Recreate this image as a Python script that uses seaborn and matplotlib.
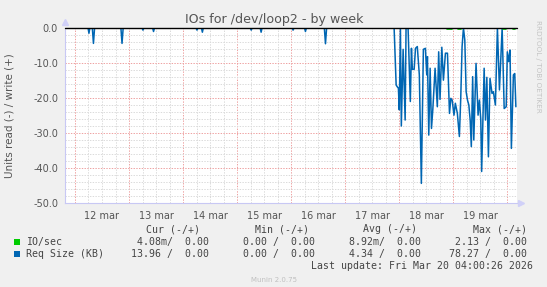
import numpy as np
import pandas as pd
import matplotlib
matplotlib.use("Agg")
import matplotlib.pyplot as plt
from matplotlib.patches import Rectangle
import seaborn as sns

# ---------------- data ----------------
# time in hours since 12 Mar 00:00
req_hours = [-4.4, 5.8, 6.2, 6.6, 7.7, 8.2, 8.7, 20.4, 20.9, 21.4,
             29.8, 30.2, 30.6, 34.5, 34.9, 35.3, 53.8, 54.2, 54.6,
             56.2, 56.6, 57.0, 77.9, 78.3, 78.7, 82.3, 82.7, 83.1,
             96.5, 96.9, 97.3, 102.0, 102.4, 102.8, 110.8, 111.3, 111.8,
             140.9, 141.8, 142.7, 143.2, 143.7, 144.1, 144.6, 145.0, 145.8, 146.7,
             147.1, 148.0, 149.0, 149.5, 149.9, 150.7, 151.3, 152.1, 153.0, 153.9,
             154.8, 155.7, 156.3, 156.6, 157.2, 157.8, 158.4, 159.0, 160.0, 161.0,
             161.6, 162.2, 163.0, 163.7, 164.6, 165.5, 166.4, 167.0, 167.6, 168.4,
             169.0, 169.9, 170.8, 171.4, 172.0, 172.6, 173.2, 173.8, 174.4, 175.0,
             175.6, 176.1, 176.7, 177.2, 178.2, 179.1, 179.7, 180.3, 180.7, 181.8,
             182.4, 183.0, 183.7, 184.4, 185.3, 185.9, 186.8, 187.7, 188.6, 189.8,
             190.7, 191.6, 192.1, 192.7, 193.3, 193.9, 194.8, 195.4, 195.9]
req_values = [0.0, 0.0, -1.5, 0.0, 0.0, -4.4, 0.0, 0.0, -4.4, 0.0,
              0.0, -0.6, 0.0, 0.0, -1.0, 0.0, 0.0, -0.6, 0.0,
              0.0, -1.2, 0.0, 0.0, -0.6, 0.0, 0.0, -1.2, 0.0,
              0.0, -0.6, 0.0, 0.0, -1.0, 0.0, 0.0, -4.5, 0.0,
              0.0, 0.0, -16.3, -16.8, -17.2, -23.4, 0.0, -28.0, -6.1, -26.3,
              0.0, 0.0, -21.0, -5.8, -11.8, -11.8, -5.8, -5.3, -13.4, -44.4,
              -6.1, -5.8, -13.4, -8.2, -30.6, -11.5, -28.7, -23.2, -11.5, -22.5,
              -6.8, -20.4, -5.5, -14.9, -7.2, -7.2, -24.4, -20.1, -20.6, -24.9,
              -21.5, -24.4, -31.0, -20.1, -5.3, 0.0, -3.4, -18.2, -20.6, -22.0,
              -26.3, -33.9, -13.9, -32.0, -10.1, -24.9, -20.6, -26.1, -41.0, -11.5,
              -26.3, -14.1, -36.8, -14.4, -18.7, -18.2, -22.0, 0.0, -17.7, 0.0,
              -23.0, -22.5, -6.8, -9.6, -6.3, -34.4, -13.4, -13.0, -22.5]

# IO/sec (read side, essentially zero); visible segments only
io_hours = [165.3, 167.6, 170.2, 171.6, 190.2, 191.6, 194.7, 195.6]
io_values = [-0.2, -0.2, -0.2, -0.2, -0.2, -0.2, -0.2, -0.2]
io_segment = [0, 0, 1, 1, 2, 2, 3, 3]

day_labels = ["12 mar", "13 mar", "14 mar", "15 mar", "16 mar", "17 mar", "18 mar", "19 mar"]
y_ticks = [0, -10, -20, -30, -40, -50]

legend_header = ["Cur (-/+)", "Min (-/+)", "Avg (-/+)", "Max (-/+)"]
legend_names = ["IO/sec", "Req Size (KB)"]
legend_rows = [["4.08m/  0.00", "0.00 /  0.00", "8.92m/  0.00", "2.13 /  0.00"],
               ["13.96 /  0.00", "0.00 /  0.00", "4.34 /  0.00", "78.27 /  0.00"]]
series_colors = ["#00CC00", "#0066B3"]

title = "IOs for /dev/loop2 - by week"
ylabel = "Units read (-) / write (+)"
last_update = "Last update: Fri Mar 20 04:00:26 2026"
footer = "Munin 2.0.75"
side_text = "RRDTOOL / TOBI OETIKER"

# ---------------- figure ----------------
sns.set_theme(style="white")
plt.rcParams["font.family"] = ["DejaVu Sans"]

W, H = 547, 287
fig = plt.figure(figsize=(W / 100, H / 100), dpi=100, facecolor="#F0F0F0")
L, R, T, B = 65, 517, 28, 203
ax = fig.add_axes([L / W, 1 - B / H, (R - L) / W, (B - T) / H])
ax.set_facecolor("white")

ax.set_xlim(-4.44, 196.4)
ax.set_ylim(-50, 0)

grey = "#dadada"
red = "#eea0a0"
# ticks & grid
ax.set_xticks([24 * i for i in range(9)])
ax.set_xticks([6 * i for i in range(0, 33)], minor=True)
ax.set_yticks(y_ticks)
ax.set_yticks(list(range(-50, 1, 2)), minor=True)
ax.set_xticklabels([])
ax.set_yticklabels([f"{v:.1f}" for v in y_ticks])
ax.grid(True, which="minor", color=grey, lw=0.7, ls=(0, (1.4, 1.4)))
ax.grid(True, which="major", color=red, lw=0.7, ls=(0, (1.4, 1.4)))
ax.set_axisbelow(True)
ax.tick_params(axis="x", which="major", length=3, color=red, width=0.7, direction="out")
ax.tick_params(axis="x", which="minor", length=2, color=grey, width=0.7, direction="out")
ax.tick_params(axis="y", which="both", length=0, pad=5, labelsize=7, labelcolor="#555555")

for s in ["top", "right"]:
    ax.spines[s].set_visible(False)
for s in ["left", "bottom"]:
    ax.spines[s].set_color("#c8c8f4")
    ax.spines[s].set_linewidth(0.8)

# arrows at axis ends
ax.plot([0], [1.035], marker="^", ms=4, color="#d0d0f8", transform=ax.transAxes, clip_on=False)
ax.plot([1.008], [0], marker=">", ms=4, color="#d0d0f8", transform=ax.transAxes, clip_on=False)

# day labels
for i, lab in enumerate(day_labels):
    ax.text(12 + 24 * i, -0.045, lab, transform=ax.get_xaxis_transform(),
            ha="center", va="top", fontsize=7, color="#555555")

# data
req_df = pd.DataFrame({"h": req_hours, "v": req_values})
sns.lineplot(data=req_df, x="h", y="v", ax=ax, color=series_colors[1], lw=1.1,
             estimator=None, sort=False, legend=False)
ax.axhline(0, color="black", lw=1.0, clip_on=False, zorder=5)
io_df = pd.DataFrame({"h": io_hours, "v": io_values, "seg": io_segment})
sns.lineplot(data=io_df, x="h", y="v", units="seg", ax=ax, color=series_colors[0], lw=1.2,
             estimator=None, sort=False, legend=False, zorder=4)

ax.set_xlabel("")
ax.set_ylabel("")

# texts
def px(x, y):
    return x / W, 1 - y / H

fig.text(*px(274, 19), title, ha="center", va="center", fontsize=9.1, color="#555555")
fig.text(*px(10, 115.5), ylabel, ha="center", va="center", rotation=90, fontsize=7.5, color="#555555")
fig.text(*px(538, 20), side_text, ha="center", va="top", rotation=270, fontsize=5.2, color="#c4c4c4")

mono = "DejaVu Sans Mono"
fs = 7.1
head_right = [200, 309, 417, 527]
val_right = [209, 315, 421, 527]
for hx, htxt in zip(head_right, legend_header):
    fig.text(*px(hx, 229), htxt, ha="right", va="center", family=mono, fontsize=fs, color="#444444")
for r, (name, row) in enumerate(zip(legend_names, legend_rows)):
    yy = 242 + 12 * r
    fig.patches.append(Rectangle(px(14, yy + 3), 5.5 / W, 6 / H, transform=fig.transFigure,
                                 facecolor=series_colors[r], edgecolor="none"))
    fig.text(*px(26, yy), name, ha="left", va="center", family=mono, fontsize=fs, color="#444444")
    for vx, vtxt in zip(val_right, row):
        fig.text(*px(vx, yy), vtxt, ha="right", va="center", family=mono, fontsize=fs, color="#444444")
fig.text(*px(533, 266), last_update, ha="right", va="center", family=mono, fontsize=fs, color="#444444")
fig.text(*px(274, 280), footer, ha="center", va="center", fontsize=5, color="#c0c0c0")

fig.savefig("out.png", dpi=100, facecolor=fig.get_facecolor())
